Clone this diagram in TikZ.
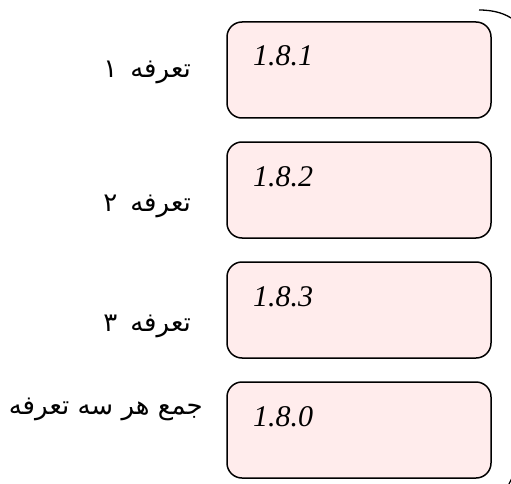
\documentclass[tikz,border=0pt]{standalone}
\usepackage{fontspec}
\setmainfont{Liberation Serif}
\newfontfamily\arabicfont[Script=Arabic]{DejaVu Sans}
\TeXXeTstate=1
\definecolor{boxpink}{RGB}{255,236,236}
\begin{document}
\begin{tikzpicture}[x=1pt,y=-1pt,
  box/.style={draw=black, line width=1.5pt, fill=boxpink, rounded corners=15pt,
    minimum width=264pt, minimum height=96pt, inner sep=0pt},
  num/.style={font=\fontsize{30}{30}\selectfont\itshape, anchor=base west, inner sep=0pt},
  lab/.style={font=\arabicfont\fontsize{26}{26}\selectfont, anchor=base east, inner sep=0pt},
  brace/.style={draw=black, line width=1.3pt}]
\useasboundingbox (0,0) rectangle (511,484);

\node[box] (b1) at (359,70) {};
\node[box] (b2) at (359,190) {};
\node[box] (b3) at (359,310) {};
\node[box] (b4) at (359,430) {};

\node[num] (n1) at (253,66) {1.8.1};
\node[num] (n2) at (253,186) {1.8.2};
\node[num] (n3) at (253,306) {1.8.3};
\node[num] (n4) at (253,426) {1.8.0};

\node[lab] (l1) at (191,78) {\beginR تعرفه\hspace{13pt}۱\endR};
\node[lab] (l2) at (191,211) {\beginR تعرفه\hspace{13pt}۲\endR};
\node[lab] (l3) at (191,331) {\beginR تعرفه\hspace{13pt}۳\endR};
\node[lab] (l4) at (203,414) {\beginR جمع هر سه تعرفه\endR};

\coordinate (a1) at (479,10);
\coordinate (a2) at (514,20);
\draw[brace] (a1) .. controls (495,10) and (506,14) .. (a2);
\coordinate (c1) at (512,478);
\coordinate (c2) at (508,486);
\draw[brace] (c1) -- (c2);
\end{tikzpicture}
\end{document}
